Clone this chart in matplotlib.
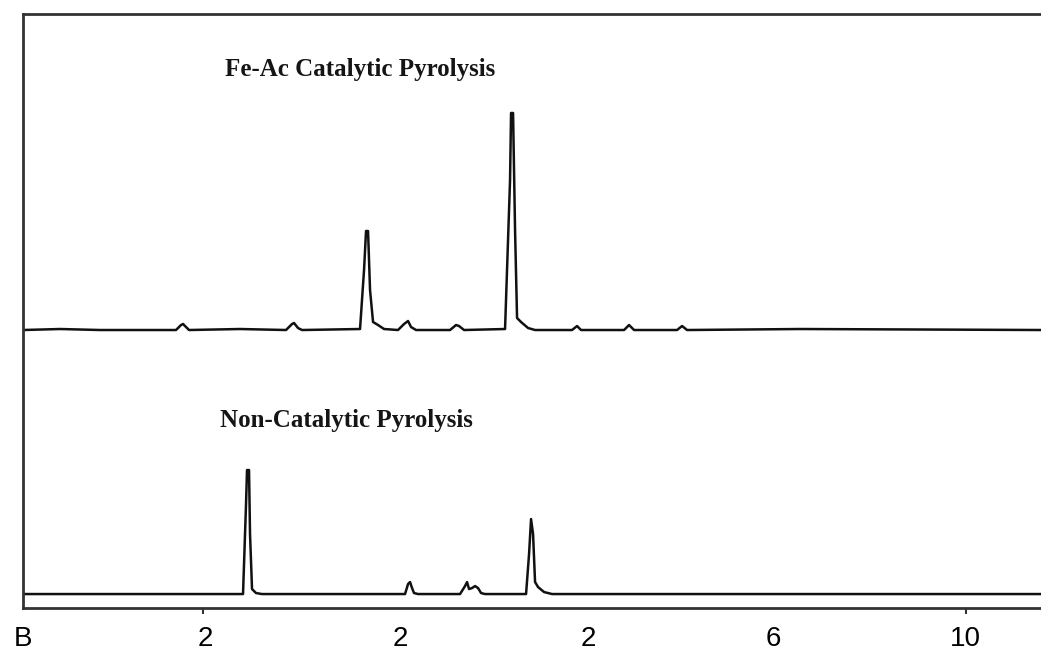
import matplotlib
matplotlib.use("Agg")
import matplotlib.pyplot as plt

# retention time (arbitrary units) and signal (arbitrary units)
fe_t = [0.0, 1.85, 3.85, 7.65, 7.9, 8.0, 8.15, 8.3, 10.85, 13.15, 13.45, 13.55, 13.75, 13.95,
        16.85, 17.05, 17.15, 17.25, 17.35, 17.5, 17.75, 18.05, 18.75, 19.05, 19.25, 19.4, 19.65,
        21.35, 21.65, 21.8, 22.05, 24.1, 24.35, 24.4, 24.5, 24.6, 24.7, 24.9, 25.25, 25.6,
        27.45, 27.7, 27.9, 30.05, 30.3, 30.55, 32.7, 32.95, 33.2, 38.85, 50.9]
fe_sig = [0, 1, 0, 0, 5, 6, 3, 0, 1, 0, 6, 7, 2, 0,
          1, 60, 99, 99, 40, 8, 5, 1, 0, 6, 9, 3, 0,
          0, 5, 4, 0, 1, 150, 217, 217, 100, 12, 8, 2, 0,
          0, 4, 0, 0, 5, 0, 0, 4, 0, 1, 0]

non_t = [0.0, 5.0, 11.0, 11.15, 11.2, 11.3, 11.35, 11.45, 11.65, 11.95,
         19.1, 19.25, 19.35, 19.45, 19.55, 19.75,
         21.85, 22.1, 22.2, 22.3, 22.45, 22.6, 22.75, 22.9, 23.1,
         25.15, 25.3, 25.4, 25.5, 25.6, 25.75, 26.05, 26.45, 50.9]
non_sig = [0, 0, 0, 90, 124, 124, 60, 5, 1, 0,
           0, 10, 12, 6, 1, 0,
           0, 8, 12, 5, 6, 8, 6, 1, 0,
           0, 40, 75, 60, 12, 7, 2, 0, 0]

tick_pos = [0.0, 9.1, 18.85, 28.25, 37.5, 47.1]
tick_labels = ['B', '2', '2', '2', '6', '10']
marks = [0.0, 9.0, 47.15]

fe_offset = 277.7
non_offset = 13.7

fig = plt.figure(figsize=(10.41, 6.5), dpi=100)
ax = fig.add_axes([0.0221, 0.065, 0.978, 0.9135])

ax.plot(fe_t, [s + fe_offset for s in fe_sig], color='#111111', lw=1.8)
ax.plot(non_t, [s + non_offset for s in non_sig], color='#111111', lw=1.8)

ax.text(10.1, 537.7, 'Fe-Ac Catalytic Pyrolysis', family='Liberation Serif',
        fontweight='bold', fontsize=18, va='center', ha='left', color='#151515')
ax.text(9.85, 187.7, 'Non-Catalytic Pyrolysis', family='Liberation Serif',
        fontweight='bold', fontsize=18, va='center', ha='left', color='#151515')

ax.set_xlim(0, 50.9)
ax.set_ylim(0, 593.7)
ax.set_yticks([])
ax.set_xticks(tick_pos)
ax.set_xticklabels(tick_labels, family='Liberation Sans', fontsize=20)
ax.tick_params(axis='x', which='major', length=0, pad=13)
ax.set_xticks(marks, minor=True)
ax.tick_params(axis='x', which='minor', length=4, width=1.5, color='#333333')

ax.spines['right'].set_visible(False)
for side in ['left', 'top', 'bottom']:
    ax.spines[side].set_linewidth(2)
    ax.spines[side].set_color('#333333')

fig.savefig('out.png', dpi=100)
